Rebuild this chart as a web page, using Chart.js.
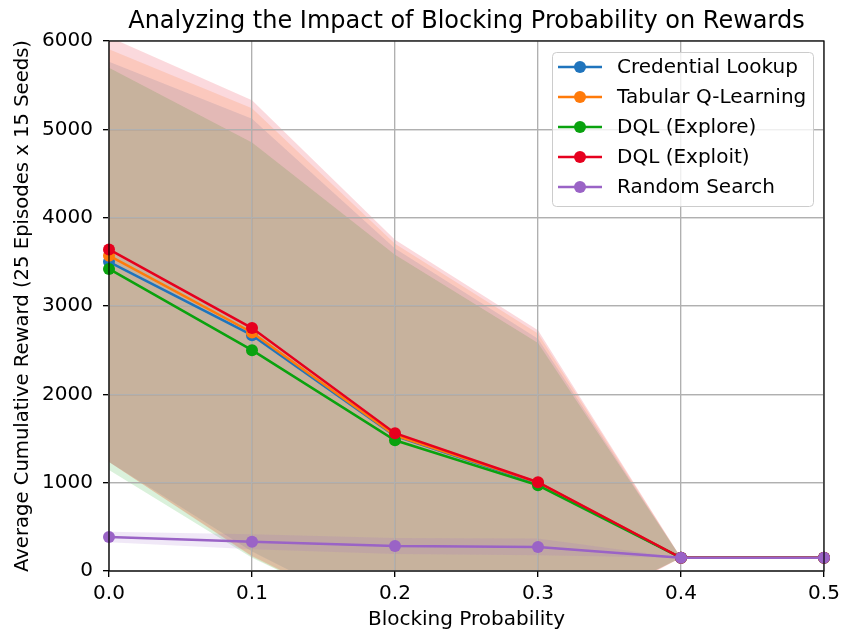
<!DOCTYPE html>
<html>
<head>
<meta charset="utf-8">
<script src="https://cdn.jsdelivr.net/npm/chart.js@4.4.1/dist/chart.umd.min.js"></script>
<style>
  html, body { margin: 0; padding: 0; background: #fff; }
  #wrap { width: 845px; height: 632px; }
</style>
</head>
<body>
<div id="wrap"><canvas id="rewardChart" width="845" height="632"></canvas></div>
<script>
// x values (blocking probability)
const blockingProb = [0.0, 0.1, 0.2, 0.3, 0.4, 0.5];
const xTicks = [0.0, 0.1, 0.2, 0.3, 0.4, 0.5];
const yTicks = [0, 1000, 2000, 3000, 4000, 5000, 6000];

const seriesNames = ["Credential Lookup", "Tabular Q-Learning", "DQL (Explore)", "DQL (Exploit)", "Random Search"];
const seriesColors = ["#1f74bd", "#ff7a0a", "#09a20e", "#e6001e", "#9a63c6"];

// mean reward per blocking probability
const credentialMean = [3500, 2670, 1530, 990, 150, 150];
const tabularMean = [3570, 2700, 1535, 1000, 150, 150];
const exploreMean = [3420, 2500, 1480, 970, 150, 150];
const exploitMean = [3640, 2750, 1560, 1005, 150, 150];
const randomMean = [385, 330, 283, 272, 150, 150];

// standard deviation (shaded band)
const credentialStd = [2266, 2450, 2120, 1640, 0, 0];
const tabularStd = [2336, 2540, 2170, 1690, 0, 0];
const exploreStd = [2277, 2350, 2100, 1610, 0, 0];
const exploitStd = [2406, 2580, 2190, 1720, 0, 0];
const randomStd = [60, 85, 90, 95, 0, 0];

const allMeans = [credentialMean, tabularMean, exploreMean, exploitMean, randomMean];
const allStds = [credentialStd, tabularStd, exploreStd, exploitStd, randomStd];

const FONT = "'DejaVu Sans', 'Liberation Sans', sans-serif";

function hexToRgba(hex, a) {
  const n = parseInt(hex.slice(1), 16);
  return `rgba(${(n >> 16) & 255}, ${(n >> 8) & 255}, ${n & 255}, ${a})`;
}

const toPoints = (ys) => ys.map((y, i) => ({ x: blockingProb[i], y: y }));

// bands first (upper filled to lower), then lines on top
// higher order is drawn earlier, so the first series band goes at the bottom
const datasets = [];
seriesNames.forEach((name, s) => {
  const upper = allMeans[s].map((m, i) => m + allStds[s][i]);
  const lower = allMeans[s].map((m, i) => m - allStds[s][i]);
  datasets.push({
    label: "band-upper",
    data: toPoints(upper),
    borderWidth: 0,
    pointRadius: 0,
    backgroundColor: hexToRgba(seriesColors[s], 0.15),
    fill: "+1",
    order: 30 - s,
    isBand: true,
  });
  datasets.push({
    label: "band-lower",
    data: toPoints(lower),
    borderWidth: 0,
    pointRadius: 0,
    fill: false,
    order: 30 - s,
    isBand: true,
  });
});
seriesNames.forEach((name, s) => {
  datasets.push({
    label: name,
    data: toPoints(allMeans[s]),
    borderColor: seriesColors[s],
    backgroundColor: seriesColors[s],
    borderWidth: 2.5,
    pointRadius: 6,
    pointHoverRadius: 6,
    pointBorderWidth: 0,
    fill: false,
    order: 10 - s,
    clip: 8,
  });
});

// redraw the grid over the bands, like matplotlib does
let gridRedrawn = false;
const gridOverBands = {
  id: "gridOverBands",
  beforeDraw() { gridRedrawn = false; },
  beforeDatasetDraw(chart, args) {
    if (gridRedrawn || chart.data.datasets[args.index].isBand) return;
    gridRedrawn = true;
    chart.scales.x.drawGrid(chart.chartArea);
    chart.scales.y.drawGrid(chart.chartArea);
  },
};

// title, frame and legend box inside the axes
const decorations = {
  id: "decorations",
  afterDraw(chart) {
    const ctx = chart.ctx;
    const a = chart.chartArea;
    ctx.save();
    // frame
    ctx.strokeStyle = "#000";
    ctx.lineWidth = 1.2;
    ctx.strokeRect(a.left, a.top, a.right - a.left, a.bottom - a.top);
    // title
    ctx.fillStyle = "#000";
    ctx.font = `24px ${FONT}`;
    ctx.textAlign = "center";
    ctx.textBaseline = "alphabetic";
    ctx.fillText("Analyzing the Impact of Blocking Probability on Rewards", (a.left + a.right) / 2, 28);
    // legend
    const bx = 552, by = 52, bw = 261, bh = 154;
    ctx.fillStyle = "rgba(255,255,255,0.8)";
    ctx.strokeStyle = "#cccccc";
    ctx.lineWidth = 1;
    ctx.beginPath();
    ctx.roundRect(bx + 0.5, by + 0.5, bw, bh, 4);
    ctx.fill();
    ctx.stroke();
    ctx.font = `20px ${FONT}`;
    ctx.textAlign = "left";
    ctx.textBaseline = "middle";
    seriesNames.forEach((name, i) => {
      const y = by + 15 + i * 30;
      ctx.strokeStyle = seriesColors[i];
      ctx.lineWidth = 2.5;
      ctx.beginPath();
      ctx.moveTo(558, y);
      ctx.lineTo(602, y);
      ctx.stroke();
      ctx.fillStyle = seriesColors[i];
      ctx.beginPath();
      ctx.arc(580, y, 6, 0, Math.PI * 2);
      ctx.fill();
      ctx.fillStyle = "#000";
      ctx.fillText(name, 617, y + 1);
    });
    ctx.restore();
  },
};

const ctx = document.getElementById("rewardChart").getContext("2d");
new Chart(ctx, {
  type: "line",
  data: { datasets: datasets },
  options: {
    responsive: false,
    animation: false,
    layout: { padding: { top: 41, right: 21, left: 0, bottom: 0 } },
    plugins: {
      legend: { display: false },
      title: { display: false },
      tooltip: { enabled: false },
    },
    scales: {
      x: {
        type: "linear",
        min: 0,
        max: 0.5,
        afterBuildTicks: (scale) => { scale.ticks = xTicks.map((v) => ({ value: v })); },
        afterFit: (scale) => { scale.height = 61; },
        ticks: {
          callback: (v) => Number(v).toFixed(1),
          font: { family: FONT, size: 20 },
          color: "#000",
          padding: 5,
          maxRotation: 0,
        },
        grid: { color: "#b0b0b0", lineWidth: 1.2, tickLength: 6, tickColor: "#000" },
        border: { color: "#000", width: 1.2 },
        title: {
          display: true,
          text: "Blocking Probability",
          font: { family: FONT, size: 20 },
          color: "#000",
          padding: { top: 0, bottom: 0 },
        },
      },
      y: {
        min: 0,
        max: 6000,
        afterBuildTicks: (scale) => { scale.ticks = yTicks.map((v) => ({ value: v })); },
        afterFit: (scale) => { scale.width = 109; },
        ticks: {
          callback: (v) => String(v),
          font: { family: FONT, size: 20 },
          color: "#000",
          padding: 10,
        },
        grid: { color: "#b0b0b0", lineWidth: 1.2, tickLength: 6, tickColor: "#000" },
        border: { color: "#000", width: 1.2 },
        title: {
          display: true,
          text: "Average Cumulative Reward (25 Episodes x 15 Seeds)",
          font: { family: FONT, size: 19.6 },
          color: "#000",
          padding: { top: 11, bottom: 0 },
        },
      },
    },
  },
  plugins: [gridOverBands, decorations],
});
</script>
</body>
</html>
